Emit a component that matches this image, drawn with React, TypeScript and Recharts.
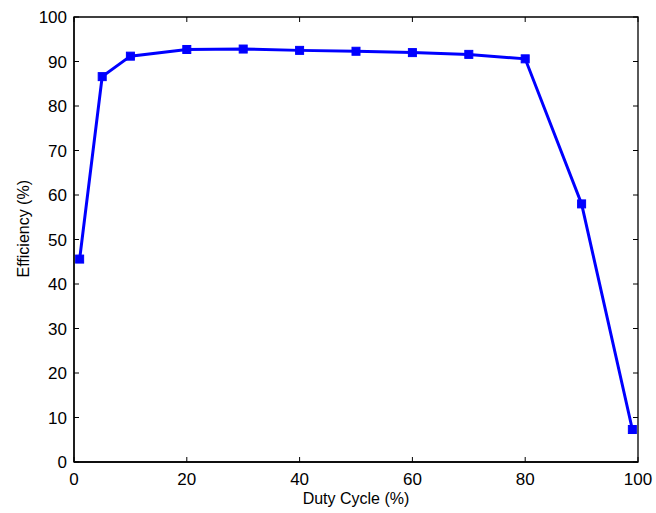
import { LineChart, Line, XAxis, YAxis, ReferenceArea } from "recharts";

const dutyCycle = [1, 5, 10, 20, 30, 40, 50, 60, 70, 80, 90, 99];
const efficiency = [45.6, 86.6, 91.2, 92.7, 92.8, 92.5, 92.3, 92.0, 91.6, 90.6, 58.0, 7.3];
const xTicks = [0, 20, 40, 60, 80, 100];
const yTicks = [0, 10, 20, 30, 40, 50, 60, 70, 80, 90, 100];

const data = dutyCycle.map((d, i) => ({ duty: d, eff: efficiency[i] }));

const W = 656;
const H = 513;
const PLOT_LEFT = 74;
const PLOT_RIGHT = 638;
const PLOT_TOP = 17;
const PLOT_BOTTOM = 462;
const TICK = 5;
const FONT = "'Liberation Sans', Arial, Helvetica, sans-serif";

// bottom labels plus inward ticks on bottom and top edges
const XTick = (props: any) => {
  const { x, payload } = props;
  return (
    <g>
      <line x1={x} x2={x} y1={PLOT_BOTTOM} y2={PLOT_BOTTOM - TICK} stroke="#000" />
      <line x1={x} x2={x} y1={PLOT_TOP} y2={PLOT_TOP + TICK} stroke="#000" />
      <text x={x} y={PLOT_BOTTOM + 23} textAnchor="middle" fontSize={17} fontFamily={FONT} fill="#000">
        {payload.value}
      </text>
    </g>
  );
};

// left labels plus inward ticks on left and right edges
const YTick = (props: any) => {
  const { y, payload } = props;
  return (
    <g>
      <line x1={PLOT_LEFT} x2={PLOT_LEFT + TICK} y1={y} y2={y} stroke="#000" />
      <line x1={PLOT_RIGHT} x2={PLOT_RIGHT - TICK} y1={y} y2={y} stroke="#000" />
      <text x={PLOT_LEFT - 7} y={y + 6} textAnchor="end" fontSize={17} fontFamily={FONT} fill="#000">
        {payload.value}
      </text>
    </g>
  );
};

const SquareDot = (props: any) => {
  const { cx, cy } = props;
  return <rect x={cx - 4} y={cy - 4} width={8} height={8} fill="#0000ff" stroke="#0000ff" />;
};

export default function App() {
  return (
    <div style={{ position: "absolute", left: 0, top: 0, width: W, height: H, background: "#fff" }}>
      <LineChart
        width={W}
        height={H}
        data={data}
        margin={{ top: PLOT_TOP, right: W - PLOT_RIGHT, bottom: 0, left: 0 }}
      >
        <XAxis
          dataKey="duty"
          type="number"
          domain={[0, 100]}
          ticks={xTicks}
          height={H - PLOT_BOTTOM}
          tick={<XTick />}
          tickLine={false}
          axisLine={{ stroke: "#000", strokeWidth: 1.3 }}
          label={{ value: "Duty Cycle (%)", position: "insideBottom", offset: 9, fontSize: 16, fontFamily: FONT, fill: "#000" }}
        />
        <YAxis
          type="number"
          domain={[0, 100]}
          ticks={yTicks}
          width={PLOT_LEFT}
          tick={<YTick />}
          tickLine={false}
          axisLine={{ stroke: "#000", strokeWidth: 1.3 }}
          label={{ value: "Efficiency (%)", angle: -90, position: "insideLeft", offset: 23, dy: 38, fontSize: 16, fontFamily: FONT, fill: "#000" }}
        />
        {/* box around the plot area */}
        <ReferenceArea
          x1={0}
          x2={100}
          y1={0}
          y2={100}
          fill="none"
          fillOpacity={0}
          stroke="#000"
          strokeWidth={1.3}
          ifOverflow="visible"
        />
        <Line
          dataKey="eff"
          stroke="#0000ff"
          strokeWidth={3}
          dot={<SquareDot />}
          activeDot={false}
          isAnimationActive={false}
        />
      </LineChart>
    </div>
  );
}
